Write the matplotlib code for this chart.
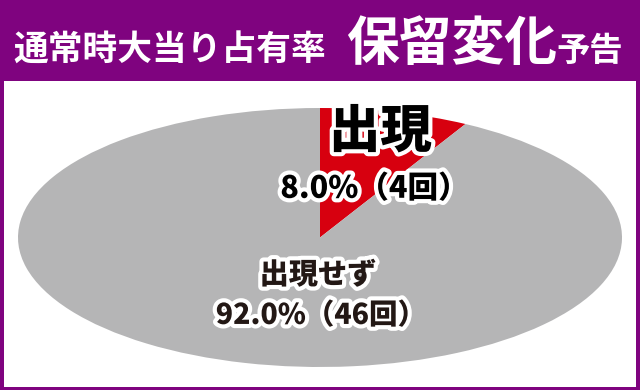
import matplotlib
matplotlib.use('Agg')
import matplotlib.pyplot as plt
import matplotlib.patheffects as pe

plt.rcParams['font.family'] = ['Noto Sans CJK JP', 'DejaVu Sans']

# Data
labels = ['出現', '出現せず']
counts = [4, 46]
colors = ['#d7000f', '#b5b5b6']

title_main = '通常時大当り占有率'
title_big = '保留変化'
title_tail = '予告'

purple = '#7f037f'
ink = '#231815'

W, H = 640, 390
fig = plt.figure(figsize=(W / 100, H / 100), dpi=100, facecolor=purple)

def fx(px):
    return px / W

def fy(py):
    return 1 - py / H

# White panel
panel = fig.add_axes([fx(4), fy(387), fx(632), 306 / H])
panel.set_facecolor('white')
panel.set_xticks([])
panel.set_yticks([])
for s in panel.spines.values():
    s.set_visible(False)

# Title
fig.text(fx(13), fy(61), title_main, color='white', fontsize=25, fontweight='bold',
         ha='left', va='baseline')
fig.text(fx(346), fy(60), title_big, color='white', fontsize=38, fontweight='bold',
         ha='left', va='baseline')
fig.text(fx(556), fy(61), title_tail, color='white', fontsize=24, fontweight='bold',
         ha='left', va='baseline')

# Pie stretched into an ellipse
ax = fig.add_axes([fx(18), fy(367), fx(604), 259 / H])
ax.pie(counts, colors=colors, startangle=90, counterclock=False, radius=1,
       wedgeprops=dict(linewidth=0))
ax.set_aspect('auto')
ax.set_xlim(-1, 1)
ax.set_ylim(-1, 1)
ax.axis('off')

total = sum(counts)
pcts = [c / total * 100 for c in counts]
stroke = [pe.withStroke(linewidth=6, foreground='white')]

# "出現" labels
ax.text(0.20, 0.815, labels[0], fontsize=37, fontweight='heavy', color='black',
        ha='center', va='center', path_effects=stroke)
ax.text(0.18, 0.38, f'{pcts[0]:.1f}%（{counts[0]}回）', fontsize=22, fontweight='heavy',
        color='black', ha='center', va='center', path_effects=stroke)

# "出現せず" labels
ax.text(-0.007, -0.29, labels[1], fontsize=21, fontweight='heavy', color=ink,
        ha='center', va='center', path_effects=stroke)
ax.text(0.003, -0.60, f'{pcts[1]:.1f}%（{counts[1]}回）', fontsize=20.5, fontweight='heavy',
        color=ink, ha='center', va='center', path_effects=stroke)

fig.savefig('out.png', dpi=100, facecolor=purple)
